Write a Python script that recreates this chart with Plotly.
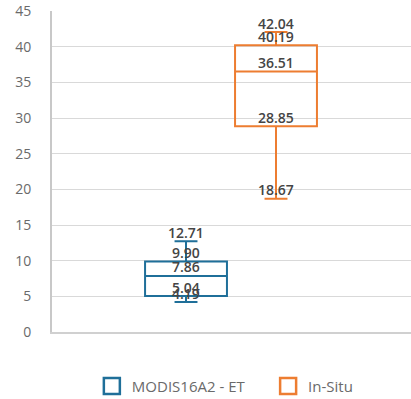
import plotly.graph_objects as go

series_names = ["MODIS16A2 - ET", "In-Situ"]
mins = [4.19, 18.67]
q1s = [5.04, 28.85]
medians = [7.86, 36.51]
q3s = [9.90, 40.19]
maxs = [12.71, 42.04]
colors = ["#1f6f99", "#ed7d31"]
y_ticks = [0, 5, 10, 15, 20, 25, 30, 35, 40, 45]

legend_ids = ["legend", "legend2"]
legend_x = [0.111, 0.602]

fig = go.Figure()
for i, name in enumerate(series_names):
    fig.add_trace(go.Box(
        name=name,
        x=[i],
        q1=[q1s[i]], median=[medians[i]], q3=[q3s[i]],
        lowerfence=[mins[i]], upperfence=[maxs[i]],
        width=0.91,
        whiskerwidth=0.28,
        line=dict(color=colors[i], width=2),
        fillcolor="rgba(255,255,255,0)",
        boxpoints=False,
        hoverinfo="skip",
        showlegend=False,
    ))
    # legend entry with a square outline icon
    fig.add_trace(go.Scatter(
        name=name, x=[None], y=[None], mode="markers",
        marker=dict(symbol="square-open", size=17, color=colors[i],
                    line=dict(width=2.5, color=colors[i])),
        showlegend=True, legend=legend_ids[i],
    ))
    for v in [mins[i], q1s[i], medians[i], q3s[i], maxs[i]]:
        fig.add_annotation(
            x=i, y=v, text="%.2f" % v, showarrow=False,
            yanchor="middle", yshift=9,
            font=dict(family="Open Sans", size=14, color="#454545", weight=600),
        )

legend_style = dict(orientation="h", xanchor="left", y=-0.169, yanchor="middle",
                    font=dict(family="Open Sans", size=15, color="#6a6a6a"),
                    itemwidth=30, bgcolor="rgba(0,0,0,0)")

fig.update_layout(
    width=411, height=399,
    margin=dict(l=52, r=0, t=11, b=67, autoexpand=False),
    plot_bgcolor="white", paper_bgcolor="white",
    showlegend=True,
    legend=dict(x=legend_x[0], **legend_style),
    legend2=dict(x=legend_x[1], **legend_style),
    xaxis=dict(range=[-1.489, 2.5], showticklabels=False, showgrid=False, zeroline=False,
               showline=True, linecolor="#d0d0d0", linewidth=2, fixedrange=True),
    yaxis=dict(range=[0, 45], tickvals=y_ticks, showgrid=True, gridcolor="#d9d9d9", gridwidth=1,
               zeroline=False, showline=True, linecolor="#c8c8c8", linewidth=2,
               ticks="", ticklabelstandoff=16,
               tickfont=dict(family="Open Sans", size=14, color="#6a6a6a")),
)

fig.write_html("out.html", config={"displayModeBar": False},
               post_script="document.body.style.margin='0';")
